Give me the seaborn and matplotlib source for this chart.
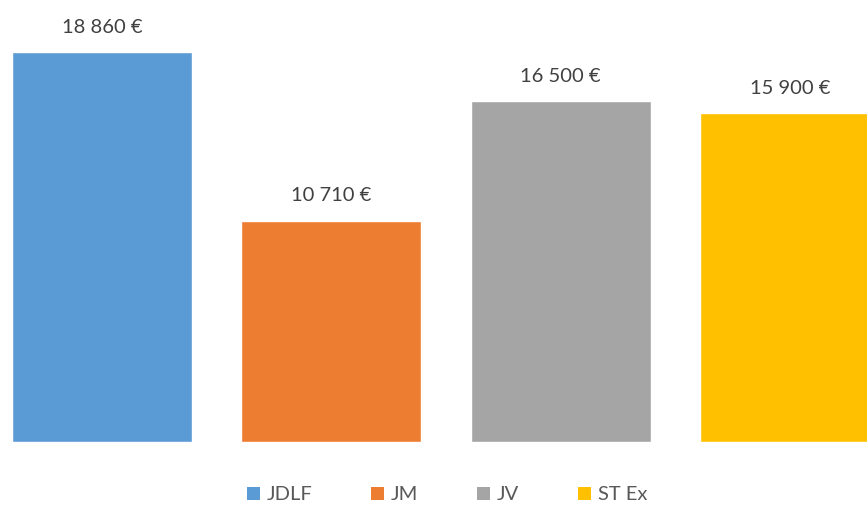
import matplotlib
matplotlib.use("Agg")
import pandas as pd
import seaborn as sns
import matplotlib.pyplot as plt
from matplotlib.patches import Patch

categories = ["JDLF", "JM", "JV", "ST Ex"]
values = [18860, 10710, 16500, 15900]
labels = ["18 860 €", "10 710 €", "16 500 €", "15 900 €"]
colors = ["#5B9BD5", "#ED7D31", "#A5A5A5", "#FFC000"]

df = pd.DataFrame({"cat": categories, "val": values})

sns.set_style("white")
plt.rcParams["font.family"] = ["Lato", "DejaVu Sans"]

fig = plt.figure(figsize=(8.67, 5.07), dpi=100)
# axes spans the figure width; bottom of bars at 65 px from figure bottom
ax = fig.add_axes([0, 65 / 507, 1, 442 / 507])

sns.barplot(data=df, x="cat", y="val", hue="cat", palette=colors,
            saturation=1, dodge=False, width=0.785, legend=False, ax=ax)

# pixel 0 -> -0.445, pixel 867 -> 3.336
ax.set_xlim(-0.445, 3.336)
ax.set_ylim(0, 442 / 20.68 * 1000)

for i, (v, lab) in enumerate(zip(values, labels)):
    ax.text(i, v + 780, lab, ha="center", va="bottom",
            fontsize=14.5, color="#404040")

ax.set_axis_off()

handles = [Patch(facecolor=c, edgecolor="none") for c in colors]
fig.legend(handles, categories, loc="center", bbox_to_anchor=(447 / 867, 1 - 495 / 507),
           ncol=4, frameon=False, fontsize=14.5, handlelength=0.65, handleheight=0.65,
           handletextpad=0.35, columnspacing=2.9, labelcolor="#595959")

plt.savefig("out.png", dpi=100)
